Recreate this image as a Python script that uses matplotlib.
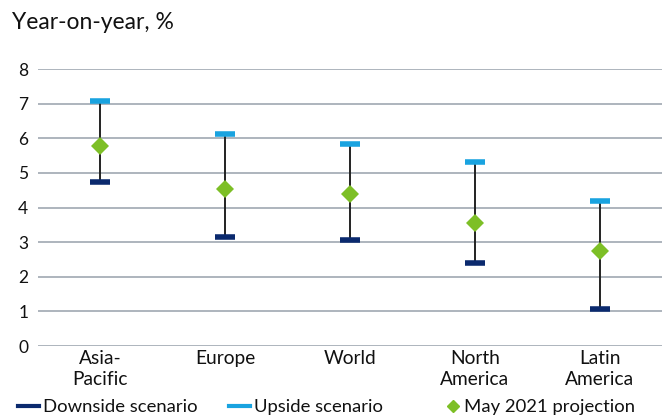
import matplotlib
matplotlib.use("Agg")
import matplotlib.pyplot as plt
from matplotlib.lines import Line2D

# Growth scenarios by region, year-on-year %
regions = ["Asia-\nPacific", "Europe", "World", "North\nAmerica", "Latin\nAmerica"]
downside = [4.75, 3.15, 3.05, 2.40, 1.08]
upside = [7.07, 6.13, 5.84, 5.32, 4.18]
projection = [5.77, 4.55, 4.38, 3.56, 2.76]

DOWN_C = "#0b2a6e"
UP_C = "#19a3e0"
PROJ_C = "#7dbf26"
GRID_C = "#a7afb7"
TEXT_C = "#111111"

plt.rcParams["font.family"] = ["Lato", "DejaVu Sans"]

fig = plt.figure(figsize=(6.62, 4.16), dpi=100)
ax = fig.add_axes([0.0574, 0.168, 0.9426, 0.666])

x = list(range(len(regions)))
ax.vlines(x, downside, upside, color="#222222", linewidth=1.4, zorder=2)
ax.plot(x, downside, linestyle="none", marker="_", markersize=15, markeredgewidth=4,
        color=DOWN_C, zorder=3)
ax.plot(x, upside, linestyle="none", marker="_", markersize=15, markeredgewidth=4,
        color=UP_C, zorder=3)
ax.plot(x, projection, linestyle="none", marker="D", markersize=9.5,
        color=PROJ_C, markeredgewidth=0, zorder=4)

ax.set_xlim(-0.5, len(regions) - 0.5)
ax.set_ylim(0, 8)
ax.set_yticks(range(0, 9))
ax.yaxis.grid(True, color=GRID_C, linewidth=1.3)
ax.set_axisbelow(True)
for s in ax.spines.values():
    s.set_visible(False)
ax.tick_params(axis="both", length=0, colors=TEXT_C)
ax.tick_params(axis="y", labelsize=12.5, pad=7)
ax.set_xticks(x)
ax.set_xticklabels(regions, linespacing=1.3)
ax.tick_params(axis="x", labelsize=13.8, pad=3)

fig.text(0.018, 0.945, "Year-on-year, %", fontsize=16.5, color=TEXT_C, va="center")

# legend entries laid out one by one along the bottom
legend_y = 1 - 407 / 416
items = [
    (Line2D([0], [0], color=DOWN_C, linewidth=3), "Downside scenario", 0.0272, 1.14),
    (Line2D([0], [0], color=UP_C, linewidth=3), "Upside scenario", 0.346, 1.14),
    (Line2D([0], [0], linestyle="none", marker="D", markersize=6.5, color=PROJ_C),
     "May 2021 projection", 0.674, 0.72),
]
for handle, label, lx, hl in items:
    leg = fig.legend([handle], [label], loc="center left", bbox_to_anchor=(lx, legend_y),
                     frameon=False, fontsize=13.3, handlelength=hl, handletextpad=0.22,
                     borderpad=0, borderaxespad=0)
    for t in leg.get_texts():
        t.set_color(TEXT_C)

fig.savefig("out.png", dpi=100)
